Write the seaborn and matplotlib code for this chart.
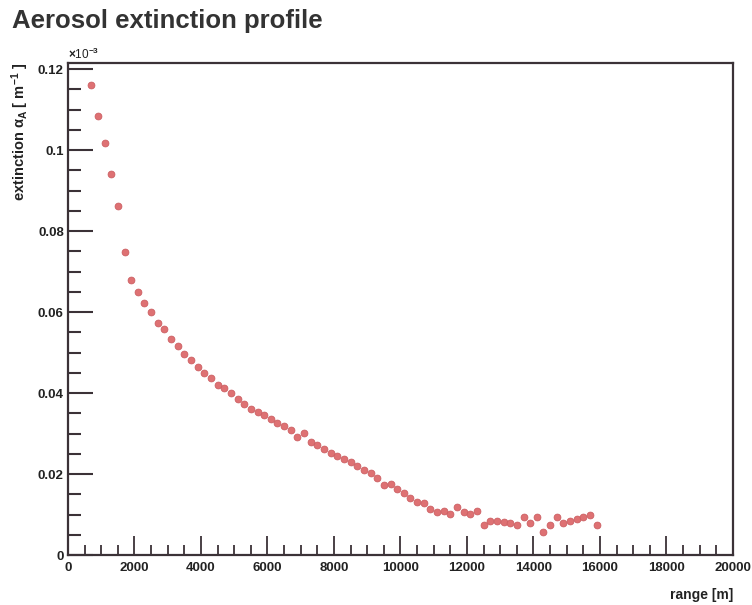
import matplotlib
matplotlib.use("Agg")
import matplotlib.pyplot as plt
import seaborn as sns
import pandas as pd
from matplotlib.ticker import MultipleLocator

# range in m, extinction in units of 1e-3 m^-1
ranges = [700, 900, 1100, 1300, 1500, 1700, 1900, 2100, 2300, 2500,
          2700, 2900, 3100, 3300, 3500, 3700, 3900, 4100, 4300, 4500,
          4700, 4900, 5100, 5300, 5500, 5700, 5900, 6100, 6300, 6500,
          6700, 6900, 7100, 7300, 7500, 7700, 7900, 8100, 8300, 8500,
          8700, 8900, 9100, 9300, 9500, 9700, 9900, 10100, 10300, 10500,
          10700, 10900, 11100, 11300, 11500, 11700, 11900, 12100, 12300, 12500,
          12700, 12900, 13100, 13300, 13500, 13700, 13900, 14100, 14300, 14500,
          14700, 14900, 15100, 15300, 15500, 15700, 15900]
extinction = [0.1160, 0.1083, 0.1017, 0.0942, 0.0863, 0.0748, 0.0678, 0.0649, 0.0622, 0.0600,
              0.0574, 0.0557, 0.0534, 0.0517, 0.0497, 0.0482, 0.0465, 0.0449, 0.0436, 0.0420,
              0.0412, 0.0399, 0.0385, 0.0373, 0.0361, 0.0353, 0.0346, 0.0335, 0.0327, 0.0319,
              0.0309, 0.0291, 0.0301, 0.0280, 0.0272, 0.0261, 0.0253, 0.0245, 0.0236, 0.0230,
              0.0220, 0.0210, 0.0202, 0.0189, 0.0173, 0.0175, 0.0162, 0.0152, 0.0140, 0.0132,
              0.0129, 0.0113, 0.0107, 0.0109, 0.0101, 0.0119, 0.0107, 0.0101, 0.0109, 0.0073,
              0.0083, 0.0084, 0.0082, 0.0080, 0.0074, 0.0095, 0.0078, 0.0093, 0.0058, 0.0074,
              0.0094, 0.0080, 0.0085, 0.0089, 0.0093, 0.0099, 0.0074]

x_ticks = [0, 2000, 4000, 6000, 8000, 10000, 12000, 14000, 16000, 18000, 20000]
x_labels = ["0", "2000", "4000", "6000", "8000", "10000", "12000", "14000", "16000", "18000", "20000"]
y_ticks = [0, 0.02, 0.04, 0.06, 0.08, 0.1, 0.12]
y_labels = ["0", "0.02", "0.04", "0.06", "0.08", "0.1", "0.12"]

df = pd.DataFrame({"range": ranges, "ext": extinction})

sns.set_style("ticks")
plt.rcParams["font.family"] = ["Liberation Sans", "DejaVu Sans"]
plt.rcParams["mathtext.fontset"] = "custom"
plt.rcParams["mathtext.rm"] = "Liberation Sans:bold"
plt.rcParams["mathtext.it"] = "Liberation Sans:bold"
plt.rcParams["mathtext.bf"] = "Liberation Sans:bold"

frame = "#3b3237"

fig = plt.figure(figsize=(7.52, 6.05), dpi=100)
ax = fig.add_axes([0.0904, 0.0826, 0.8843, 0.8133])

sns.scatterplot(data=df, x="range", y="ext", ax=ax, s=24, color="#de7173",
                edgecolor="#cc5f62", linewidth=0.6, zorder=3)

ax.set_xlim(0, 20000)
ax.set_ylim(0, 0.1215)
ax.set_xticks(x_ticks)
ax.set_xticklabels(x_labels)
ax.set_yticks(y_ticks)
ax.set_yticklabels(y_labels)
ax.xaxis.set_minor_locator(MultipleLocator(500))
ax.yaxis.set_minor_locator(MultipleLocator(0.005))

ax.tick_params(axis="x", which="major", direction="in", length=14, width=1.3,
               color=frame, pad=5, labelsize=9.5)
ax.tick_params(axis="x", which="minor", direction="in", length=7, width=1.3, color=frame)
ax.tick_params(axis="y", which="major", direction="in", length=18, width=1.5,
               color=frame, pad=3, labelsize=9.5)
ax.tick_params(axis="y", which="minor", direction="in", length=9, width=1.5, color=frame)
for lab in ax.get_xticklabels() + ax.get_yticklabels():
    lab.set_fontweight("bold")
    lab.set_color("#222222")

for sp in ax.spines.values():
    sp.set_color(frame)
    sp.set_linewidth(1.6)

ax.set_xlabel("range [m]", fontsize=10, fontweight="bold", color="#222222")
ax.xaxis.set_label_coords(1.0, -0.068)
ax.xaxis.label.set_horizontalalignment("right")
ax.set_ylabel(r"extinction $\alpha_{A}$ [ m$^{-1}$ ]", fontsize=10.5,
              fontweight="bold", color="#222222")
ax.yaxis.set_label_coords(-0.072, 1.0)
ax.yaxis.label.set_verticalalignment("center")
ax.yaxis.label.set_horizontalalignment("right")

fig.text(0.091, 0.898, r"$\times$10$^{-3}$", fontsize=8.5, color="#222222",
         ha="left", va="bottom")
fig.text(0.016, 0.966, "Aerosol extinction profile", fontsize=18.5,
         fontweight="bold", color="#333333", ha="left", va="center")

fig.savefig("out.png", dpi=100)
